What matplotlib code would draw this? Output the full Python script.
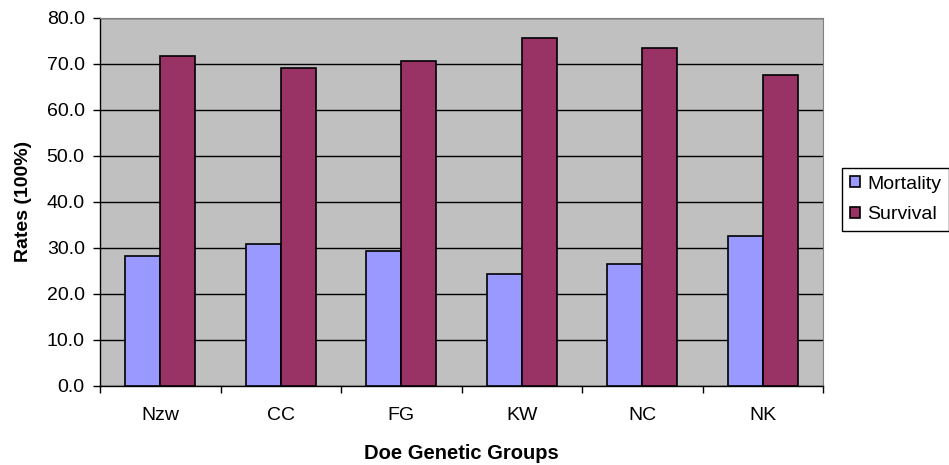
import matplotlib.pyplot as plt
import numpy as np

groups = ["Nzw", "CC", "FG", "KW", "NC", "NK"]
mortality = [28.3, 30.8, 29.4, 24.4, 26.6, 32.5]
survival = [71.7, 69.2, 70.6, 75.6, 73.4, 67.5]

plt.rcParams["font.family"] = ["Liberation Sans", "DejaVu Sans"]

fig = plt.figure(figsize=(9.49, 4.65), dpi=100)
ax = fig.add_axes([100 / 949, 1 - 386 / 465, 723 / 949, 368 / 465])

x = np.arange(len(groups))
w = 0.29
ax.bar(x - w / 2, mortality, w, color="#9999ff", edgecolor="black", linewidth=1.2,
       label="Mortality", zorder=3)
ax.bar(x + w / 2, survival, w, color="#993366", edgecolor="black", linewidth=1.2,
       label="Survival", zorder=3)

ax.set_facecolor("#c0c0c0")
ax.set_xlim(-0.5, len(groups) - 0.5)
ax.set_ylim(0, 80)
ax.set_yticks(np.arange(0, 81, 10))
ax.set_yticklabels([f"{v:.1f}" for v in np.arange(0, 81, 10)], fontsize=14)
ax.yaxis.grid(True, color="black", linewidth=1, zorder=1)
ax.set_axisbelow(True)

# ticks at category borders, labels at centers
ax.set_xticks(np.arange(-0.5, len(groups), 1))
ax.set_xticklabels([])
ax.set_xticks(x, minor=True)
ax.set_xticklabels(groups, minor=True, fontsize=14)
ax.tick_params(axis="x", which="major", length=5, width=1, direction="out")
ax.tick_params(axis="x", which="minor", length=0, pad=15)
ax.tick_params(axis="y", length=5, width=1, direction="out", pad=6)

for side in ["top", "right"]:
    ax.spines[side].set_color("#808080")
for side in ["left", "bottom"]:
    ax.spines[side].set_color("black")
    ax.spines[side].set_linewidth(1)

fig.text(461.5 / 949, 1 - 453 / 465, "Doe Genetic Groups", fontsize=14.5,
         fontweight="bold", ha="center", va="center")
fig.text(24 / 949, 1 - 201 / 465, "Rates (100%)", fontsize=14,
         fontweight="bold", ha="center", va="center", rotation=90)

leg = ax.legend(loc="upper left", bbox_to_anchor=(842 / 949, 1 - 168 / 465),
                bbox_transform=fig.transFigure, fontsize=14, frameon=True,
                fancybox=False, edgecolor="black", framealpha=1,
                handlelength=0.5, handleheight=0.5, handletextpad=0.4,
                borderpad=0.4, labelspacing=0.7, borderaxespad=0)
leg.get_frame().set_linewidth(1)

fig.savefig("out.png", dpi=100)
